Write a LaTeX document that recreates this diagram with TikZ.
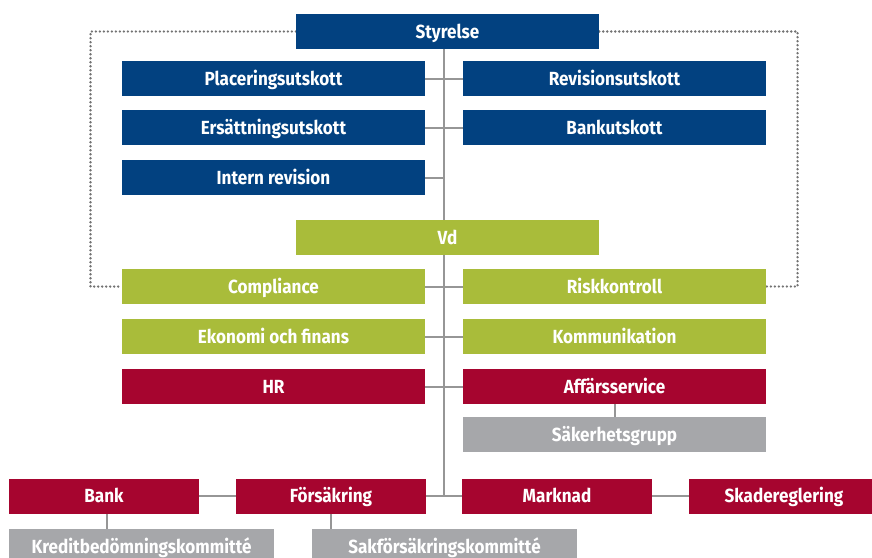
\documentclass[tikz,border=0pt]{standalone}
\usepackage{fontspec}
\newfontfamily\boxfont[FakeStretch=0.9]{Fira Sans}
\usetikzlibrary{backgrounds}
\definecolor{boardblue}{RGB}{2,65,128}
\definecolor{mgmtgreen}{RGB}{169,188,58}
\definecolor{unitred}{RGB}{166,5,47}
\definecolor{groupgray}{RGB}{166,167,170}
\definecolor{linkgray}{RGB}{150,150,150}
\definecolor{dotgray}{RGB}{115,115,115}
\tikzset{
  x=1pt, y=-1pt,
  box/.style={rectangle, inner sep=0pt, minimum height=35pt, text=white,
    text height=13pt, text depth=0pt,
    font=\boxfont\bfseries\fontsize{19}{21}\selectfont},
  wide/.style={box, minimum width=303pt},
  unit/.style={box, minimum width=190pt},
  group/.style={box, minimum width=265pt},
  link/.style={draw=linkgray, line width=2pt},
  dotlink/.style={draw=dotgray, line width=2.6pt, line cap=round, dash pattern=on 0pt off 4pt}
}
\begin{document}
\begin{tikzpicture}
\clip (0,0) rectangle (872,557);
% board and committees
\node[wide, fill=boardblue] (styr) at (447.5,31.5) {Styrelse};
\node[wide, fill=boardblue] (plac) at (273.5,78.5) {Placeringsutskott};
\node[wide, fill=boardblue] (ers) at (273.5,127.5) {Ersättningsutskott};
\node[wide, fill=boardblue] (intern) at (273.5,177.5) {Intern revision};
\node[wide, fill=boardblue] (rev) at (614.5,78.5) {Revisionsutskott};
\node[wide, fill=boardblue] (bankutsk) at (614.5,127.5) {Bankutskott};
% management and staff functions
\node[wide, fill=mgmtgreen] (vd) at (447.5,237.5) {Vd};
\node[wide, fill=mgmtgreen] (compl) at (273.5,286.5) {Compliance};
\node[wide, fill=mgmtgreen] (risk) at (614.5,286.5) {Riskkontroll};
\node[wide, fill=mgmtgreen] (eko) at (273.5,336.5) {Ekonomi och finans};
\node[wide, fill=mgmtgreen] (komm) at (614.5,336.5) {Kommunikation};
\node[wide, fill=unitred] (hr) at (273.5,386.5) {HR};
\node[wide, fill=unitred] (affar) at (614.5,386.5) {Affärsservice};
\node[wide, fill=groupgray] (sak) at (614.5,434.5) {Säkerhetsgrupp};
% business units
\node[unit, fill=unitred] (bank) at (104,496) {Bank};
\node[unit, fill=unitred] (fors) at (331,496) {Försäkring};
\node[unit, fill=unitred] (mark) at (557,496) {Marknad};
\node[unit, fill=unitred] (skade) at (784,496) {Skadereglering};
\node[group, fill=groupgray] (kredit) at (141.5,546.5) {Kreditbedömningskommitté};
\node[group, fill=groupgray] (sakf) at (444.5,546.5) {Sakförsäkringskommitté};
% trunk end points and dotted frame corners
\coordinate (ttop) at (444,49);
\coordinate (tbot) at (444,496);
\coordinate (dl) at (90.5,160);
\coordinate (dr) at (797.5,160);
\begin{scope}[on background layer]
  \fill[white] (0,0) rectangle (872,557);
  \draw[link] (ttop) -- (tbot);
  \draw[link] (plac.east) -- (rev.west);
  \draw[link] (ers.east) -- (bankutsk.west);
  \draw[link] (intern.east) -- (intern.east -| ttop);
  \draw[link] (compl.east) -- (risk.west);
  \draw[link] (eko.east) -- (komm.west);
  \draw[link] (hr.east) -- (affar.west);
  \draw[link] (affar.south) -- (sak.north);
  \draw[link] (bank.east) -- (fors.west);
  \draw[link] (fors.east) -- (mark.west);
  \draw[link] (mark.east) -- (skade.west);
  \draw[link] ([xshift=3pt]bank.south) -- ([xshift=3pt]bank.south |- kredit.north);
  \draw[link] (fors.south) -- (fors.south |- sakf.north);
  \draw[dotlink] (styr.west) -| (dl) |- (compl.west);
  \draw[dotlink] (styr.east) -| (dr) |- (risk.east);
\end{scope}
\end{tikzpicture}
\end{document}
